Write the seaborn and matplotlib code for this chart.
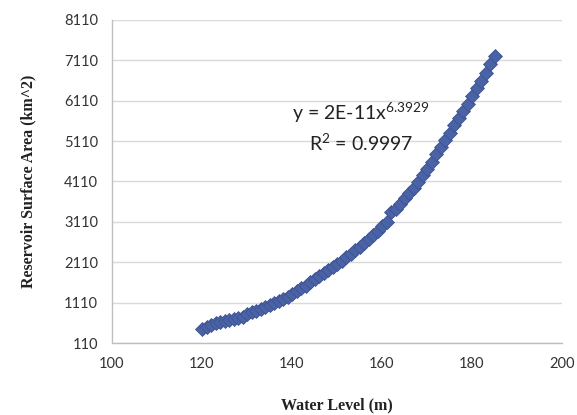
import matplotlib
matplotlib.use("Agg")
import matplotlib.pyplot as plt
import seaborn as sns
import pandas as pd

# Data
water_level = list(range(120, 186))
surface_area = [
    450, 500, 555, 595, 625, 650, 675, 705, 730, 760,        # 120-129
    830, 870, 910, 955, 1000, 1050, 1100, 1150, 1200, 1260,  # 130-139
    1330, 1390, 1460, 1530, 1620, 1700, 1770, 1840, 1910, 1990,  # 140-149
    2070, 2150, 2230, 2320, 2410, 2500, 2590, 2690, 2790, 2890,  # 150-159
    3000, 3110, 3360, 3440, 3560, 3690, 3820, 3950, 4100, 4260,  # 160-169
    4430, 4600, 4780, 4960, 5140, 5320, 5500, 5680, 5850, 6040,  # 170-179
    6230, 6420, 6600, 6800, 7030, 7220,                          # 180-185
]
x_ticks = [100, 120, 140, 160, 180, 200]
y_ticks = [110, 1110, 2110, 3110, 4110, 5110, 6110, 7110, 8110]
equation_text = r"y = 2E-11x$^{6.3929}$"
r2_text = r"R$^{2}$ = 0.9997"

df = pd.DataFrame({"Water Level": water_level, "Area": surface_area})

sns.set_theme(style="white")
plt.rcParams["font.family"] = ["Lato", "DejaVu Sans"]
plt.rcParams["mathtext.fontset"] = "custom"
plt.rcParams["mathtext.rm"] = "Lato"
plt.rcParams["mathtext.it"] = "Lato"

fig = plt.figure(figsize=(5.77, 4.15), dpi=100)
ax = fig.add_axes([112 / 577, 1 - 343 / 415, 450 / 577, 323 / 415])

sns.scatterplot(data=df, x="Water Level", y="Area", ax=ax, marker="D",
                s=50, color="#4a62a6", edgecolor="#3d5391", linewidth=0.6,
                zorder=3, legend=False)

ax.set_xlim(100, 200)
ax.set_ylim(110, 8110)
ax.set_xticks(x_ticks)
ax.set_yticks(y_ticks)
ax.set_xticklabels([str(t) for t in x_ticks], fontsize=10.5, color="#333333")
ax.set_yticklabels([str(t) for t in y_ticks], fontsize=10.5, color="#333333")

ax.yaxis.grid(True, color="#d9d9d9", linewidth=1.0)
ax.xaxis.grid(False)
ax.set_axisbelow(True)

for side in ["top", "right"]:
    ax.spines[side].set_visible(False)
ax.spines["left"].set_color("#bfbfbf")
ax.spines["bottom"].set_color("#bfbfbf")
ax.spines["left"].set_linewidth(1.0)
ax.spines["bottom"].set_linewidth(1.0)
ax.tick_params(axis="both", which="major", length=4, width=1.0,
               color="#bfbfbf", direction="out", pad=6)

ax.set_xlabel("Water Level (m)", fontfamily="Liberation Serif",
              fontweight="bold", fontsize=11.5, labelpad=19, color="#222222")
ax.set_ylabel("Reservoir Surface Area (km^2)", fontfamily="Liberation Serif",
              fontweight="bold", fontsize=11.5, labelpad=20, color="#222222")

ax.text(155.3, 5810, equation_text, fontsize=14, color="#222222",
        ha="center", va="center")
ax.text(155.3, 5060, r2_text, fontsize=14, color="#222222",
        ha="center", va="center")

fig.savefig("out.png", dpi=100)
